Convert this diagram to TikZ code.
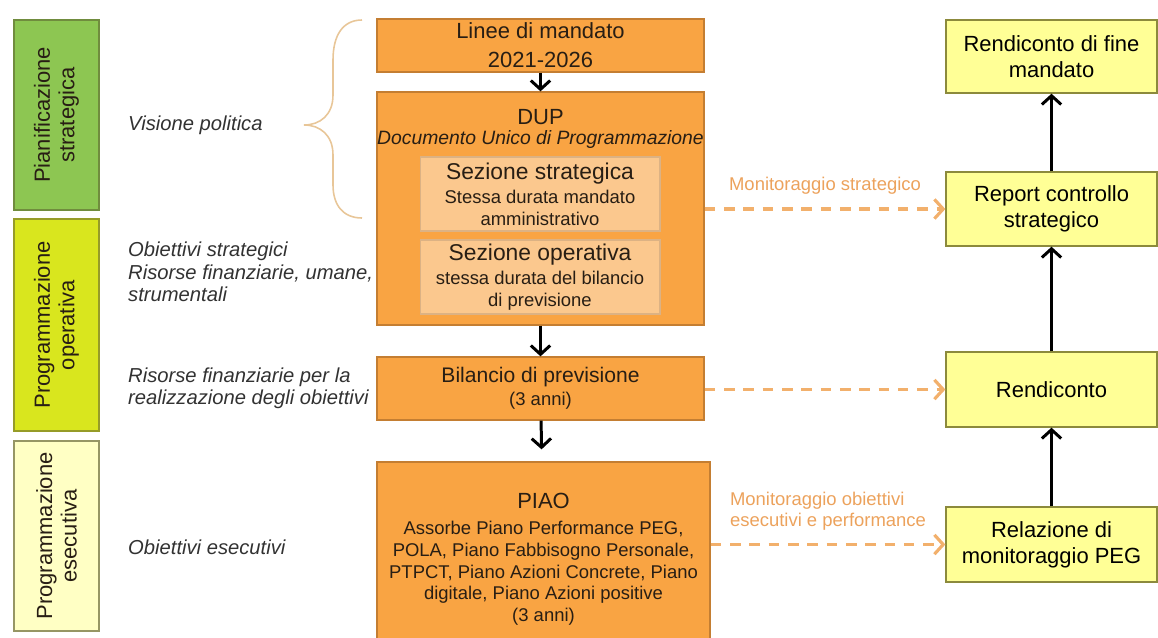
\documentclass[tikz,border=0pt]{standalone}
\usepackage{fontspec}
\setmainfont{Liberation Sans}
\usetikzlibrary{arrows.meta, positioning}

\definecolor{arancio}{RGB}{249,164,67}
\definecolor{arancioBordo}{RGB}{196,126,50}
\definecolor{arancioChiaro}{RGB}{251,200,142}
\definecolor{giallo}{RGB}{255,255,150}
\definecolor{gialloBordo}{RGB}{140,138,60}
\definecolor{verde}{RGB}{141,198,82}
\definecolor{verdeBordo}{RGB}{112,140,62}
\definecolor{giallolime}{RGB}{217,230,30}
\definecolor{limeBordo}{RGB}{150,156,40}
\definecolor{crema}{RGB}{255,255,196}
\definecolor{cremaBordo}{RGB}{150,150,100}
\definecolor{tratteggio}{RGB}{242,176,108}
\definecolor{testoMon}{RGB}{236,162,92}
\definecolor{graffa}{RGB}{232,198,152}
\definecolor{testo}{RGB}{40,30,20}
\definecolor{nota}{RGB}{50,50,50}

\begin{document}
\begin{tikzpicture}[x=0.02cm, y=-0.02cm,
  obox/.style={draw=arancioBordo, fill=arancio, line width=0.8pt, text=testo, align=center, inner sep=0pt},
  ibox/.style={draw=arancioBordo!60, fill=arancioChiaro, line width=0.6pt, text=testo, align=center, inner sep=0pt,
    minimum width=4.8cm, minimum height=1.48cm, font=\fontsize{10.5}{12.5}\selectfont},
  ybox/.style={draw=gialloBordo, fill=giallo, line width=0.8pt, align=center, inner sep=0pt,
    minimum width=4.22cm, minimum height=1.48cm, font=\fontsize{12.5}{14.8}\selectfont},
  fase/.style={rotate=90, line width=0.8pt, align=center, inner sep=0pt, text=testo,
    minimum height=1.7cm, font=\fontsize{12.5}{14}\selectfont},
  nota/.style={anchor=west, align=left, text=nota, font=\itshape\fontsize{11.5}{12.8}\selectfont},
  freccia/.style={line width=1.7pt, -{Straight Barb[length=5pt,width=11pt]}},
  monitor/.style={tratteggio, line width=1.8pt, dash pattern=on 6pt off 5pt, -{Straight Barb[length=5pt,width=11pt]}},
  etichetta/.style={text=testoMon, align=left, font=\fontsize{10.5}{12}\selectfont}]

\useasboundingbox (0,0) rectangle (1158,637);

% fasi a sinistra, testo ruotato
\node[fase, fill=verde, draw=verdeBordo, minimum width=3.8cm] (pianif) at (56.5,115) {Pianificazione\\strategica};
\node[fase, fill=giallolime, draw=limeBordo, minimum width=4.24cm] (progop) at (56.5,325) {Programmazione\\operativa};
\node[fase, fill=crema, draw=cremaBordo, minimum width=3.8cm] (progese) at (56.5,536) {Programmazione\\esecutiva};

% note in corsivo
\node[nota] (visione) at (122,125) {Visione politica};
\node[nota] (obstrat) at (122,272) {Obiettivi strategici\\Risorse finanziarie, umane,\\strumentali};
\node[nota] (risorse) at (122,388.5) {Risorse finanziarie per la\\realizzazione degli obiettivi};
\node[nota] (obese) at (122,547) {Obiettivi esecutivi};

% graffa tra le note e i documenti
\draw[graffa, line width=0.9pt] (362,20) .. controls (343,20) and (333,35) .. (333,60) -- (333,95)
  .. controls (333,115) and (320,125) .. (304,125) .. controls (320,125) and (333,135) .. (333,155)
  -- (333,185) .. controls (333,205) and (343,218) .. (362,218);

% colonna centrale
\node[obox, minimum width=6.54cm, minimum height=1.06cm, font=\fontsize{12.5}{16.5}\selectfont] (linee) at (540.5,45.5)
  {Linee di mandato\\2021-2026};
\node[obox, minimum width=6.54cm, minimum height=4.66cm] (dup) at (540.5,208.5) {};
\node[text=testo, font=\fontsize{12.5}{15}\selectfont] (duptit) at (540.5,117) {DUP};
\node[text=testo, font=\itshape\fontsize{11}{13}\selectfont] (dupsub) at (540.5,139) {Documento Unico di Programmazione};
\node[ibox] (sezstr) at (540,194)
  {{\fontsize{13}{15}\selectfont Sezione strategica}\\[1pt]Stessa durata mandato\\amministrativo};
\node[ibox] (sezop) at (540,277)
  {{\fontsize{13}{15}\selectfont Sezione operativa}\\[1pt]stessa durata del bilancio\\di previsione};
\node[obox, minimum width=6.54cm, minimum height=1.26cm, font=\fontsize{12}{13}\selectfont] (bil) at (540.5,388.5)
  {Bilancio di previsione\\{\fontsize{10.5}{13}\selectfont (3 anni)}};
\node[obox, minimum width=6.66cm, minimum height=3.9cm, font=\fontsize{10.5}{12.5}\selectfont] (piao) at (543.5,559.5)
  {{\fontsize{12.5}{15}\selectfont PIAO}\\[2pt]Assorbe Piano Performance PEG,\\POLA, Piano Fabbisogno Personale,\\PTPCT, Piano Azioni Concrete, Piano\\digitale, Piano Azioni positive\\(3 anni)};

\draw[freccia] (linee) -- (dup);
\draw[freccia] (dup) -- (bil);
\draw[freccia, shorten >=0.24cm] (bil) -- (piao);

% colonna di destra
\node[ybox, minimum height=1.46cm] (finemand) at (1051.5,56.5) {Rendiconto di fine\\mandato};
\node[ybox] (report) at (1051.5,209) {Report controllo\\strategico};
\node[ybox, minimum height=1.5cm] (rendic) at (1051.5,389.5) {Rendiconto};
\node[ybox, minimum height=1.5cm] (relaz) at (1051.5,544.5) {Relazione di\\monitoraggio PEG};

\draw[freccia] (report) -- (finemand);
\draw[freccia] (rendic) -- (report);
\draw[freccia] (relaz) -- (rendic);

% monitoraggi tratteggiati
\draw[monitor] (dup.east |- report.west) -- (report.west)
  node[etichetta, midway, above=4pt] (monstr) {Monitoraggio strategico};
\draw[monitor] (bil.east |- rendic.west) -- (rendic.west);
\draw[monitor] (piao.east |- relaz.west) -- (relaz.west)
  node[etichetta, midway, above=4pt] (monese) {Monitoraggio obiettivi\\esecutivi e performance};

\end{tikzpicture}
\end{document}
